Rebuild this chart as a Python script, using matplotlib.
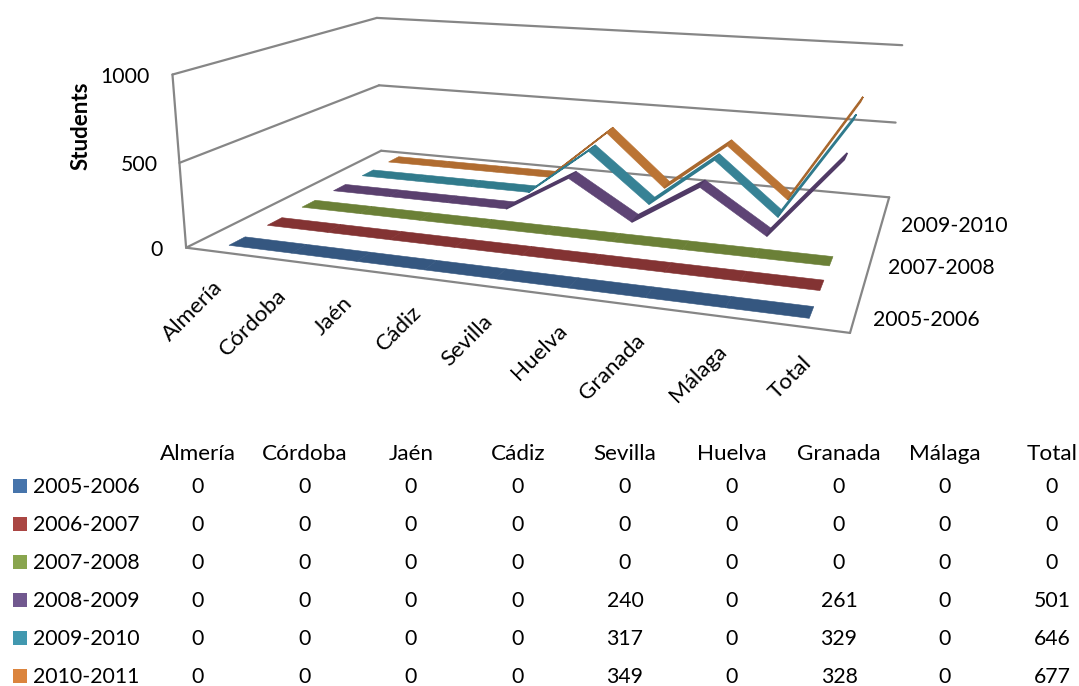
import matplotlib
matplotlib.use("Agg")
import matplotlib.pyplot as plt
import numpy as np
from matplotlib.patches import Polygon, Rectangle

plt.rcParams['font.family'] = ['Lato', 'DejaVu Sans']

categories = ["Almería", "Córdoba", "Jaén", "Cádiz", "Sevilla", "Huelva", "Granada", "Málaga", "Total"]
courses = ["2005-2006", "2006-2007", "2007-2008", "2008-2009", "2009-2010", "2010-2011"]
v_2005 = [0, 0, 0, 0, 0, 0, 0, 0, 0]
v_2006 = [0, 0, 0, 0, 0, 0, 0, 0, 0]
v_2007 = [0, 0, 0, 0, 0, 0, 0, 0, 0]
v_2008 = [0, 0, 0, 0, 240, 0, 261, 0, 501]
v_2009 = [0, 0, 0, 0, 317, 0, 329, 0, 646]
v_2010 = [0, 0, 0, 0, 349, 0, 328, 0, 677]
series = [v_2005, v_2006, v_2007, v_2008, v_2009, v_2010]

legend_colors = ["#4674ab", "#aa4643", "#89a54e", "#71588f", "#4198af", "#db843d"]
flat_colors = ["#355780", "#833333", "#6b8037", "#5a406e", "#317b8c", "#b06c30"]
fall_colors = ["#355780", "#833333", "#6b8037", "#5e4475", "#378295", "#bb7434"]
rise_colors = ["#2a4566", "#682828", "#55662c", "#503a66", "#2f7a8c", "#a9682e"]

# reference frame of the 3d box: (x along categories, depth, value) -> screen
box_3d = [(0, 0, 0), (1, 0, 0), (1, 1, 0), (0, 1, 0),
          (0, 0, 500), (0, 1, 500), (1, 1, 500),
          (0, 0, 1000), (0, 1, 1000), (1, 1, 1000)]
box_px = [(186, 248), (850, 333), (889, 197), (381, 151),
          (180, 162), (379, 85), (896, 123),
          (172, 75), (377, 18), (902, 45)]


def camera(pts3, pts2):
    # direct linear transform, gives the 3x4 perspective matrix
    rows = []
    for (x, y, z), (px, py) in zip(pts3, pts2):
        z = z / 1000
        rows.append([x, y, z, 1, 0, 0, 0, 0, -px * x, -px * y, -px * z, -px])
        rows.append([0, 0, 0, 0, x, y, z, 1, -py * x, -py * y, -py * z, -py])
    return np.linalg.svd(np.array(rows))[2][-1].reshape(3, 4)


P = camera(box_3d, box_px)


def proj(x, y, z):
    p = P @ np.array([x, y, z / 1000, 1.0])
    return p[0] / p[2], p[1] / p[2]


fig = plt.figure(figsize=(10.79, 6.86), dpi=100)
ax = fig.add_axes([0, 0, 1, 1])
ax.set_xlim(0, 1079)
ax.set_ylim(686, 0)
ax.axis("off")

# walls and floor
grid = "#868686"
for a, b in [((0, 1, 0), (1, 1, 0)), ((0, 1, 500), (1, 1, 500)), ((0, 1, 1000), (1, 1, 1000)),
             ((0, 0, 0), (0, 1, 0)), ((0, 0, 500), (0, 1, 500)), ((0, 0, 1000), (0, 1, 1000)),
             ((0, 0, 0), (0, 0, 1000)), ((0, 0, 0), (1, 0, 0)), ((1, 0, 0), (1, 1, 0))]:
    pa, pb = proj(*a), proj(*b)
    ax.plot([pa[0], pb[0]], [pa[1], pb[1]], color=grid, lw=1.6, solid_capstyle="round", zorder=1)

# ribbons, back to front
ncat = len(categories)
half = 0.034
for s in range(len(series) - 1, -1, -1):
    vals = series[s]
    yc = (s + 0.5) / len(series)
    for i in range(ncat - 1):
        x0, x1 = (i + 0.5) / ncat, (i + 1.5) / ncat
        z0, z1 = vals[i], vals[i + 1]
        quad = [proj(x0, yc - half, z0), proj(x1, yc - half, z1),
                proj(x1, yc + half, z1), proj(x0, yc + half, z0)]
        if z1 > z0:
            col, edge = rise_colors[s], 1.2
        elif z1 < z0:
            col, edge = fall_colors[s], 0.4
        else:
            col, edge = flat_colors[s], 0.4
        ax.add_patch(Polygon(quad, closed=True, facecolor=col, edgecolor=col, lw=edge, zorder=3 + (5 - s)))

# axis labels
for i, name in enumerate(categories):
    px, py = proj((i + 0.5) / ncat, 0, 0)
    ax.text(px - 4, py + 25, name, rotation=45, rotation_mode="anchor", ha="right", va="top", fontsize=16.2)
for val, xr, yb in [(1000, 150, 83), (500, 158, 171), (0, 163, 256)]:
    ax.text(xr, yb, str(val), ha="right", va="baseline", fontsize=15.3)
ax.text(81, 126, "Students", rotation=90, ha="center", va="center", fontsize=16, fontweight="bold")
for name, xl, yb in [("2005-2006", 873, 326), ("2007-2008", 888, 274), ("2009-2010", 901, 232)]:
    ax.text(xl, yb, name, ha="left", va="baseline", fontsize=15.3)

# data table under the chart
col_x = [198, 305, 411, 518, 625, 732, 839, 945, 1052]
row_y = [493, 531, 569, 607, 645, 683]
for name, xc in zip(categories, col_x):
    ax.text(xc, 460, name, ha="center", va="baseline", fontsize=16.2)
for s, yb in enumerate(row_y):
    ax.add_patch(Rectangle((13, yb - 14), 14, 14, facecolor=legend_colors[s], edgecolor="none"))
    ax.text(33, yb, courses[s], ha="left", va="baseline", fontsize=15.3)
    for xc, val in zip(col_x, series[s]):
        ax.text(xc, yb, str(val), ha="center", va="baseline", fontsize=15.3)

fig.savefig("out.png", dpi=100)
